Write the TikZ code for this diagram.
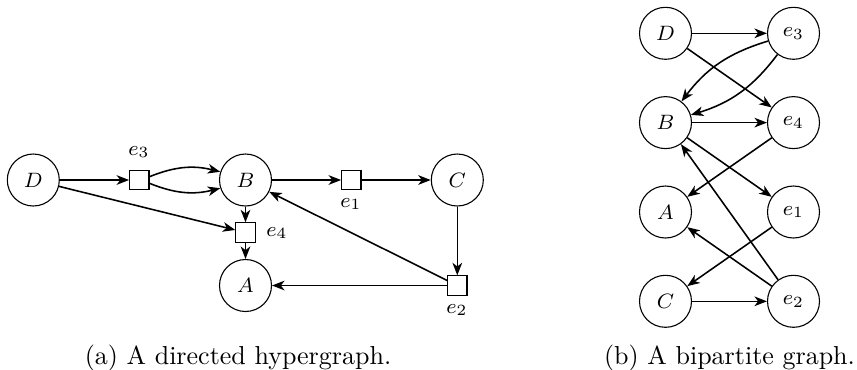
\documentclass[tikz,border=0pt]{standalone}
\usetikzlibrary{arrows.meta}
\begin{document}
\begin{tikzpicture}[x=0.3846pt,y=-0.3846pt,
  vertex/.style={circle,draw,line width=0.42pt,minimum size=20pt,inner sep=0pt,
    font=\fontsize{8}{9.6}\selectfont},
  hedge/.style={rectangle,draw,line width=0.45pt,minimum size=7.4pt,inner sep=0pt},
  elabel/.style={inner sep=0pt,font=\fontsize{8}{9.6}\selectfont},
  arc/.style={line width=0.6pt,-{Stealth[length=4.8pt,width=3.7pt,inset=1.4pt]}},
  capt/.style={inner sep=0pt,anchor=base}]
\useasboundingbox (0,0) rectangle (857,369);

% (a) directed hypergraph
\node[vertex] (D) at (33.3,180) {$D$};
\node[hedge]  (e3) at (139.3,180) {};
\node[vertex] (B) at (245.5,180) {$B$};
\node[hedge]  (e1) at (351.3,180) {};
\node[vertex] (C) at (457.3,180) {$C$};
\node[hedge]  (e4) at (245.5,232.5) {};
\node[vertex] (A) at (245.5,285.5) {$A$};
\node[hedge]  (e2) at (457.3,285.5) {};

\node[elabel] (l3) at (139,152) {$e_3$};
\node[elabel] (l1) at (351,204) {$e_1$};
\node[elabel] (l4) at (277,233) {$e_4$};
\node[elabel] (l2) at (457,310) {$e_2$};

\draw[arc] (D) -- (e3);
\draw[arc] (e3) to[bend left=18] (B);
\draw[arc] (e3) to[bend right=18] (B);
\draw[arc] (B) -- (e1);
\draw[arc] (e1) -- (C);
\draw[arc] (C) -- (e2);
\draw[arc] (e2) -- (A);
\draw[arc] (e2) -- (B);
\draw[arc] (D) -- (e4);
\draw[arc] (B) -- (e4);
\draw[arc] (e4) -- (A);

\node[capt] (capa) at (238,364) {(a) A directed hypergraph.};

% (b) bipartite graph
\node[vertex] (bD) at (665.5,33.3) {$D$};
\node[vertex] (be3) at (793.5,33.3) {$e_3$};
\node[vertex] (bB) at (665.5,122.6) {$B$};
\node[vertex] (be4) at (793.5,122.6) {$e_4$};
\node[vertex] (bA) at (665.5,212) {$A$};
\node[vertex] (be1) at (793.5,212) {$e_1$};
\node[vertex] (bC) at (665.5,301.3) {$C$};
\node[vertex] (be2) at (793.5,301.3) {$e_2$};

\draw[arc] (bD) -- (be3);
\draw[arc] (be3) to[bend left=18] (bB);
\draw[arc] (be3) to[bend right=18] (bB);
\draw[arc] (bD) -- (be4);
\draw[arc] (bB) -- (be4);
\draw[arc] (be4) -- (bA);
\draw[arc] (bB) -- (be1);
\draw[arc] (be1) -- (bC);
\draw[arc] (bC) -- (be2);
\draw[arc] (be2) -- (bA);
\draw[arc] (be2) -- (bB);

\node[capt] (capb) at (729.5,364) {(b) A bipartite graph.};
\end{tikzpicture}
\end{document}
